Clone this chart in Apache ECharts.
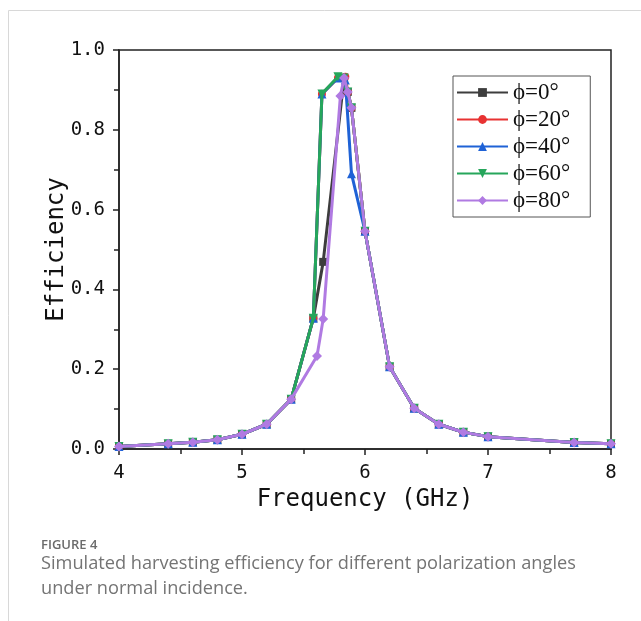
<!DOCTYPE html>
<html>
<head>
<meta charset="utf-8">
<script src="https://cdn.jsdelivr.net/npm/echarts@6/dist/echarts.min.js"></script>
<style>
html,body{margin:0;padding:0;background:#fff;}
#c{width:641px;height:621px;}
</style>
</head>
<body>
<div id="c"></div>
<script>
// ---- data ----
const seriesNames = ['ϕ=0°', 'ϕ=20°', 'ϕ=40°', 'ϕ=60°', 'ϕ=80°'];
const xTicks = [4, 5, 6, 7, 8];
const yTicks = [0.0, 0.2, 0.4, 0.6, 0.8, 1.0];

const freq0 = [4.0, 4.4, 4.6, 4.8, 5.0, 5.2, 5.4, 5.58, 5.66, 5.83, 5.86, 5.89, 6.0, 6.2, 6.4, 6.6, 6.8, 7.0, 7.7, 8.0];
const eff0  = [0.006, 0.013, 0.017, 0.023, 0.037, 0.062, 0.125, 0.328, 0.469, 0.93, 0.895, 0.855, 0.546, 0.206, 0.102, 0.062, 0.042, 0.031, 0.016, 0.013];

const freq20 = [4.0, 4.4, 4.6, 4.8, 5.0, 5.2, 5.4, 5.58, 5.65, 5.78, 5.84, 5.86, 5.89, 6.0, 6.2, 6.4, 6.6, 6.8, 7.0, 7.7, 8.0];
const eff20  = [0.006, 0.013, 0.017, 0.023, 0.037, 0.062, 0.125, 0.328, 0.89, 0.93, 0.933, 0.895, 0.855, 0.546, 0.206, 0.102, 0.062, 0.042, 0.031, 0.016, 0.013];

const freq40 = [4.0, 4.4, 4.6, 4.8, 5.0, 5.2, 5.4, 5.58, 5.65, 5.78, 5.84, 5.89, 6.0, 6.2, 6.4, 6.6, 6.8, 7.0, 7.7, 8.0];
const eff40  = [0.006, 0.013, 0.017, 0.023, 0.037, 0.062, 0.125, 0.328, 0.89, 0.93, 0.925, 0.69, 0.546, 0.206, 0.102, 0.062, 0.042, 0.031, 0.016, 0.013];

const freq60 = [4.0, 4.4, 4.6, 4.8, 5.0, 5.2, 5.4, 5.58, 5.65, 5.78, 5.83, 5.86, 5.89, 6.0, 6.2, 6.4, 6.6, 6.8, 7.0, 7.7, 8.0];
const eff60  = [0.006, 0.013, 0.017, 0.023, 0.037, 0.062, 0.125, 0.328, 0.89, 0.933, 0.93, 0.895, 0.855, 0.546, 0.206, 0.102, 0.062, 0.042, 0.031, 0.016, 0.013];

const freq80 = [4.0, 4.4, 4.6, 4.8, 5.0, 5.2, 5.4, 5.61, 5.66, 5.8, 5.83, 5.86, 5.89, 6.0, 6.2, 6.4, 6.6, 6.8, 7.0, 7.7, 8.0];
const eff80  = [0.006, 0.013, 0.017, 0.023, 0.037, 0.062, 0.125, 0.233, 0.326, 0.885, 0.93, 0.895, 0.855, 0.546, 0.206, 0.102, 0.062, 0.042, 0.031, 0.016, 0.013];

const captionTitle = 'FIGURE 4';
const captionLine1 = 'Simulated harvesting efficiency for different polarization angles';
const captionLine2 = 'under normal incidence.';

// ---- styles ----
const colors = ['#3d3d3d', '#e83232', '#1f62d6', '#26a65b', '#b07ae2'];
const symbols = ['rect', 'circle', 'triangle', 'path://M0,0 L10,0 L5,10 Z', 'diamond'];
const symbolSizes = [8, 8, 9, 9, 10];
const freqs = [freq0, freq20, freq40, freq60, freq80];
const effs = [eff0, eff20, eff40, eff60, eff80];

const zip = (xs, ys) => xs.map((x, i) => [x, ys[i]]);

const chart = echarts.init(document.getElementById('c'), null, {renderer: 'canvas'});

const monoFont = '"DejaVu Sans Mono", monospace';

chart.setOption({
  animation: false,
  backgroundColor: '#ffffff',
  grid: {
    left: 119, right: 30, top: 50, bottom: 172,
    show: true, borderColor: '#222', borderWidth: 1.5, backgroundColor: 'transparent'
  },
  legend: {
    orient: 'vertical',
    left: 453, top: 76,
    padding: [5, 20, 5, 3],
    itemGap: 4,
    itemWidth: 51,
    itemHeight: 11,
    borderColor: '#555',
    borderWidth: 1,
    textStyle: {fontFamily: '"Liberation Serif", serif', fontSize: 23, color: '#111', lineHeight: 22},
    data: seriesNames
  },
  xAxis: {
    type: 'value', min: 4, max: 8, interval: 1,
    axisLine: {show: true, onZero: false, lineStyle: {color: '#222', width: 1.5}},
    axisTick: {show: true, inside: false, length: 6, lineStyle: {color: '#222', width: 1.5}},
    minorTick: {show: true, splitNumber: 2, length: 5, lineStyle: {color: '#222', width: 1.5}},
    splitLine: {show: false},
    axisLabel: {fontFamily: monoFont, fontSize: 19, color: '#111', margin: 15,
      formatter: v => xTicks.includes(v) ? String(v) : ''},
    name: 'Frequency (GHz)', nameLocation: 'middle', nameGap: 37,
    nameTextStyle: {fontFamily: monoFont, fontSize: 24, color: '#111'}
  },
  yAxis: {
    type: 'value', min: 0, max: 1, interval: 0.2,
    axisLine: {show: true, onZero: false, lineStyle: {color: '#222', width: 1.5}},
    axisTick: {show: true, inside: false, length: 6, lineStyle: {color: '#222', width: 1.5}},
    minorTick: {show: true, splitNumber: 2, length: 5, lineStyle: {color: '#222', width: 1.5}},
    splitLine: {show: false},
    axisLabel: {fontFamily: monoFont, fontSize: 19, color: '#111', margin: 14,
      formatter: v => v.toFixed(1)},
    name: 'Efficiency', nameLocation: 'middle', nameGap: 50, nameRotate: 90,
    nameMoveOverlap: false,
    nameTextStyle: {fontFamily: monoFont, fontSize: 24, color: '#111'}
  },
  series: seriesNames.map((name, i) => ({
    name: name,
    type: 'line',
    data: zip(freqs[i], effs[i]),
    symbol: symbols[i],
    symbolSize: symbolSizes[i],
    showAllSymbol: true,
    color: colors[i],
    lineStyle: {color: colors[i], width: 3},
    itemStyle: {color: colors[i]},
    z: 2 + i
  })),
  graphic: [
    {type: 'line', shape: {x1: 8.5, y1: 10.5, x2: 641, y2: 10.5}, style: {stroke: '#d8d8d8', lineWidth: 1}, silent: true},
    {type: 'line', shape: {x1: 8.5, y1: 10.5, x2: 8.5, y2: 621}, style: {stroke: '#d8d8d8', lineWidth: 1}, silent: true},
    {type: 'text', left: 41, top: 539, style: {text: captionTitle, font: '600 13px "Open Sans", sans-serif', fill: '#6b6b6b'}},
    {type: 'text', left: 41, top: 555, style: {text: captionLine1, font: '18.2px "Open Sans", sans-serif', fill: '#747474'}},
    {type: 'text', left: 41, top: 580, style: {text: captionLine2, font: '18.2px "Open Sans", sans-serif', fill: '#747474'}}
  ]
});
</script>
</body>
</html>
